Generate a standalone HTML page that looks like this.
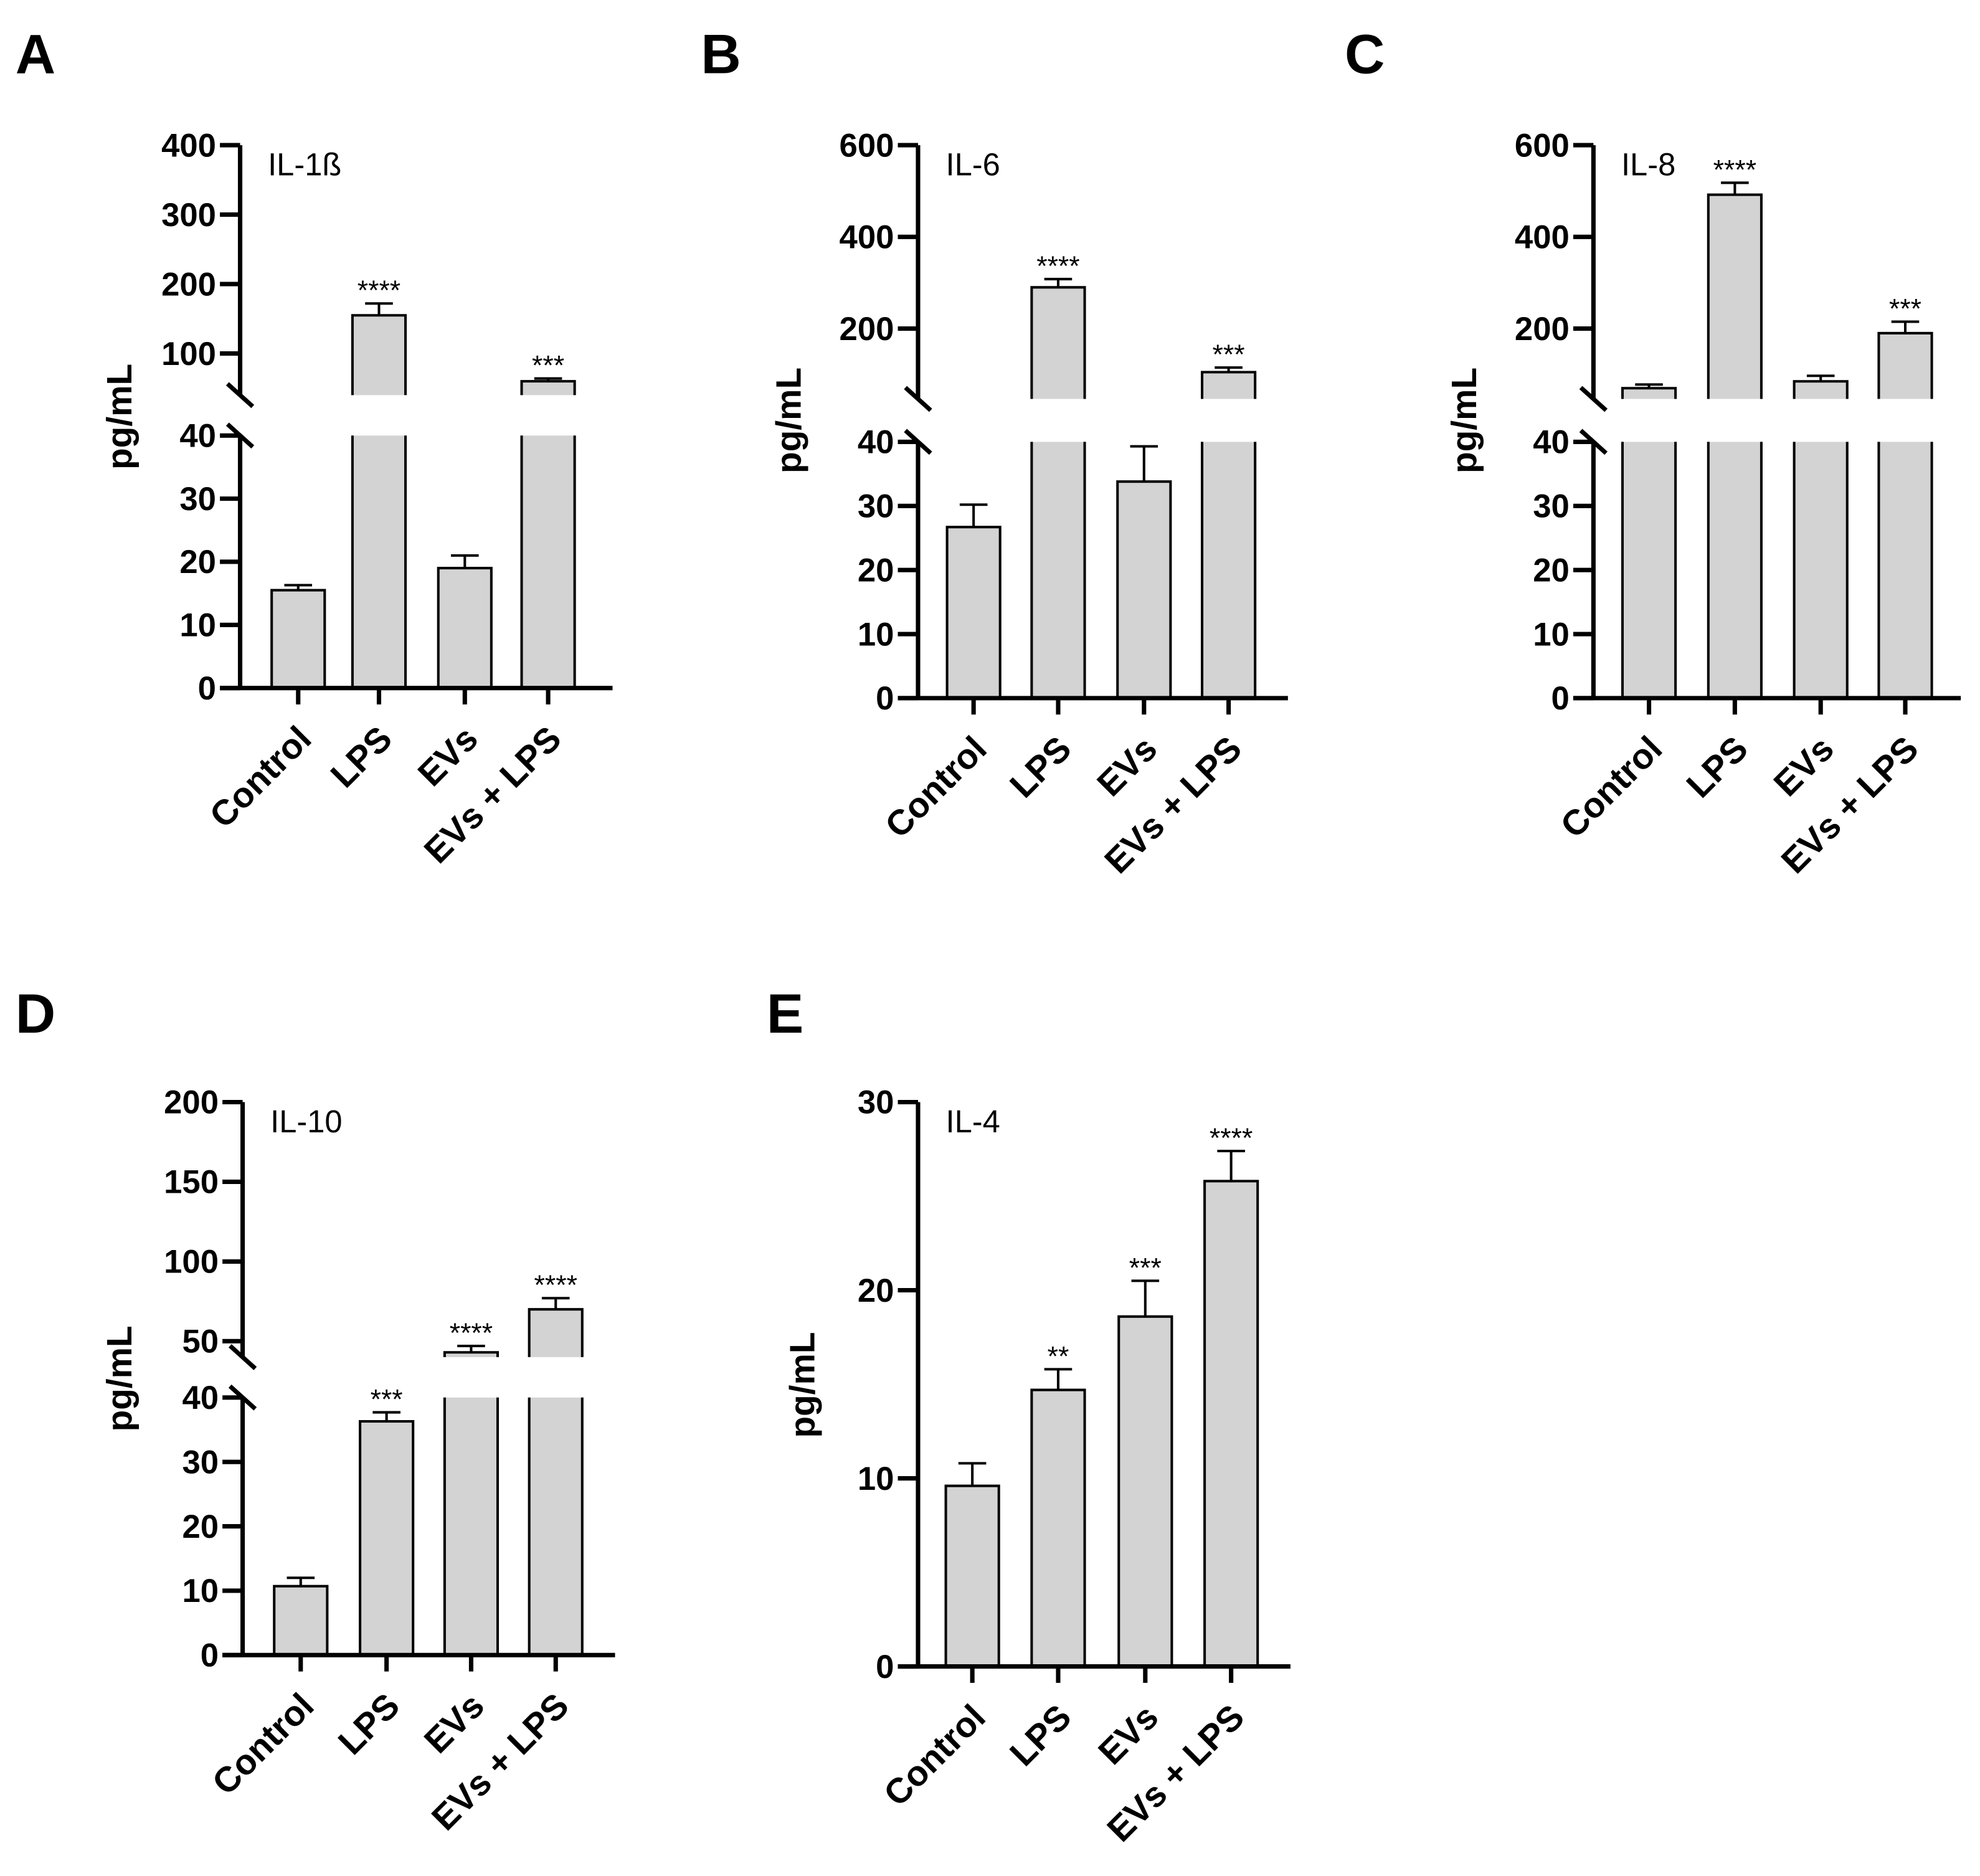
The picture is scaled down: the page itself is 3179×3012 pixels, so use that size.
<!DOCTYPE html>
<html><head><meta charset="utf-8"><style>
html,body{margin:0;padding:0;background:#fff}
svg{display:block}
text{font-family:"Liberation Sans",Arial,sans-serif}
</style></head><body>
<svg id="fig" width="3179" height="3012" viewBox="0 0 1568 1486" xmlns="http://www.w3.org/2000/svg"></svg>
<script>
const categories = ["Control","LPS","EVs","EVs + LPS"];
const il1bValues = [15.5, 155, 19, 60];
const il1bErrors = [16.3, 172, 21, 64];
const il1bStars = ["", "****", "", "***"];
const il6Values = [26.7, 290, 33.8, 105];
const il6Errors = [30.2, 308, 39.3, 115];
const il6Stars = ["", "****", "", "***"];
const il8Values = [70, 492, 85, 190];
const il8Errors = [78, 518, 97, 215];
const il8Stars = ["", "****", "", "***"];
const il10Values = [10.7, 36.3, 43, 70];
const il10Errors = [12, 37.7, 47, 77];
const il10Stars = ["", "***", "****", "****"];
const il4Values = [9.6, 14.7, 18.6, 25.8];
const il4Errors = [10.8, 15.8, 20.5, 27.4];
const il4Stars = ["", "**", "***", "****"];
const lowerTicks = [0,10,20,30,40];
const il1bUpperTicks = [100,200,300,400];
const il6UpperTicks = [200,400,600];
const il8UpperTicks = [200,400,600];
const il10UpperTicks = [50,100,150,200];
const il4Ticks = [0,10,20,30];

const svg = document.getElementById('fig');
const NS = 'http://www.w3.org/2000/svg';
function mk(tag, attrs, parent){
  const e = document.createElementNS(NS, tag);
  for (const k in attrs) e.setAttribute(k, attrs[k]);
  (parent||svg).appendChild(e);
  return e;
}

function panel(cfg){
  const g = mk('g', {});
  
  
  const ax = cfg.axisX;
  function y(v){
    if (!cfg.upper) return cfg.y0 + (cfg.ytop - cfg.y0) * v / cfg.lowMax;
    if (v <= cfg.lowMax) return cfg.y0 + (cfg.y40 - cfg.y0) * v / cfg.lowMax;
    return cfg.breakTop + (cfg.topY - cfg.breakTop) * (v - cfg.upMin) / (cfg.upMax - cfg.upMin);
  }
  const bw = 42;
  cfg.values.forEach((v, i) => {
    const cx = cfg.centers[i];
    const err = cfg.errors[i];
    const ey = y(err), vy = y(v);
    const el = mk('line', {x1:cx, x2:cx, y1:ey, y2:vy, stroke:'#000','stroke-width':2}, g);
    
    
    const cap = mk('line', {x1:cx-11, x2:cx+11, y1:ey, y2:ey, stroke:'#000','stroke-width':2}, g);
    
    
    if (cfg.upper && v > cfg.lowMax) {
      const r1 = mk('rect', {x:cx-bw/2, y:cfg.y40, width:bw, height:cfg.y0-cfg.y40, fill:'#d3d3d3', stroke:'none'}, g);
      
      
      const s1 = mk('path', {d:`M${cx-bw/2},${cfg.y0} V${cfg.y40} M${cx+bw/2},${cfg.y40} V${cfg.y0}`, fill:'none', stroke:'#000','stroke-width':2}, g);
      
      
      const r2 = mk('rect', {x:cx-bw/2, y:vy, width:bw, height:cfg.breakTop-vy, fill:'#d3d3d3'}, g);
      
      
      const s2 = mk('path', {d:`M${cx-bw/2},${cfg.breakTop} V${vy} H${cx+bw/2} V${cfg.breakTop}`, fill:'none', stroke:'#000','stroke-width':2}, g);
      
      
    } else {
      const r = mk('rect', {x:cx-bw/2, y:vy, width:bw, height:cfg.y0-vy, fill:'#d3d3d3', stroke:'#000','stroke-width':2}, g);
      
      
    }
    if (cfg.stars[i]) {
      const t = mk('text', {x:cx, y:ey-3, 'text-anchor':'middle','font-size':22}, g);
      t.textContent = cfg.stars[i];
      
      
    }
    const tk = mk('line', {x1:cx, x2:cx, y1:cfg.y0, y2:cfg.y0+13, stroke:'#000','stroke-width':3.5}, g);
    
    
    const lx = cx + 12, ly = cfg.y0 + 42;
    const lab = mk('text', {x:lx, y:ly, 'text-anchor':'end','font-size':28,'font-weight':'bold', transform:`rotate(-45 ${lx} ${ly})`}, g);
    lab.textContent = categories[i];
    
    
  });
  const xa = mk('line', {x1:ax-16, x2:cfg.axisEnd, y1:cfg.y0, y2:cfg.y0, stroke:'#000','stroke-width':3.5}, g);
  
  
  if (cfg.upper) {
    const ya1 = mk('line', {x1:ax, x2:ax, y1:cfg.y0, y2:cfg.y40, stroke:'#000','stroke-width':3.5}, g);
    
    
    const ya2 = mk('line', {x1:ax, x2:ax, y1:cfg.breakTop, y2:cfg.topY, stroke:'#000','stroke-width':3.5}, g);
    
    
    const bk1 = mk('line', {x1:ax-10, x2:ax+10, y1:cfg.breakTop-9, y2:cfg.breakTop+9, stroke:'#000','stroke-width':3.5}, g);
    
    
    const bk2 = mk('line', {x1:ax-10, x2:ax+10, y1:cfg.y40-9, y2:cfg.y40+9, stroke:'#000','stroke-width':3.5}, g);
    
    
  } else {
    const ya = mk('line', {x1:ax, x2:ax, y1:cfg.y0, y2:cfg.ytop, stroke:'#000','stroke-width':3.5}, g);
    
    
  }
  const allTicks = cfg.upper ? cfg.lowTicks.concat(cfg.upper) : cfg.lowTicks;
  allTicks.forEach(v => {
    const ty = y(v);
    const t = mk('line', {x1:ax-16, x2:ax, y1:ty, y2:ty, stroke:'#000','stroke-width':3.5}, g);
    
    
    const tl = mk('text', {x:ax-19, y:ty+9, 'text-anchor':'end','font-size':26,'font-weight':'bold'}, g);
    tl.textContent = v;
    
    
  });
  const yl = mk('text', {x:cfg.ylabX, y:cfg.ylabY, 'text-anchor':'middle','font-size':28,'font-weight':'bold', transform:`rotate(-90 ${cfg.ylabX} ${cfg.ylabY})`}, g);
  yl.textContent = 'pg/mL';
  
  
  const tt = mk('text', {x:ax+22, y:cfg.titleY, 'font-size':25}, g);
  tt.textContent = cfg.title;
  
  
  const pl = mk('text', {x:cfg.letterX, y:cfg.letterY, 'font-size':44,'font-weight':'bold'}, g);
  pl.textContent = cfg.letter;
  
  
}

panel({name:'panel-a-il1b', letter:'A', letterX:12, letterY:58, title:'IL-1ß', titleY:139,
  axisX:190, axisEnd:485, centers:[236,300,368,434], values:il1bValues, errors:il1bErrors, stars:il1bStars,
  y0:545, y40:345, lowMax:40, lowTicks:lowerTicks, breakTop:313, topY:115, upMin:40, upMax:400, upper:il1bUpperTicks,
  ylabX:104, ylabY:330});
panel({name:'panel-b-il6', letter:'B', letterX:555, letterY:58, title:'IL-6', titleY:139,
  axisX:727, axisEnd:1020, centers:[771,838,906,973], values:il6Values, errors:il6Errors, stars:il6Stars,
  y0:553, y40:350, lowMax:40, lowTicks:lowerTicks, breakTop:316, topY:115, upMin:46.6, upMax:600, upper:il6UpperTicks,
  ylabX:634, ylabY:333});
panel({name:'panel-c-il8', letter:'C', letterX:1065, letterY:58, title:'IL-8', titleY:139,
  axisX:1262, axisEnd:1553, centers:[1306,1374,1442,1509], values:il8Values, errors:il8Errors, stars:il8Stars,
  y0:553, y40:350, lowMax:40, lowTicks:lowerTicks, breakTop:316, topY:115, upMin:46.6, upMax:600, upper:il8UpperTicks,
  ylabX:1169, ylabY:333});
panel({name:'panel-d-il10', letter:'D', letterX:12, letterY:818, title:'IL-10', titleY:897,
  axisX:192, axisEnd:487, centers:[238,306,373,440], values:il10Values, errors:il10Errors, stars:il10Stars,
  y0:1311, y40:1107, lowMax:40, lowTicks:lowerTicks, breakTop:1075, topY:873, upMin:40, upMax:200, upper:il10UpperTicks,
  ylabX:104, ylabY:1092});
panel({name:'panel-e-il4', letter:'E', letterX:607, letterY:818, title:'IL-4', titleY:897,
  axisX:727, axisEnd:1022, centers:[770,838,907,975], values:il4Values, errors:il4Errors, stars:il4Stars,
  y0:1320, ytop:873, lowMax:30, lowTicks:il4Ticks, upper:null,
  ylabX:645, ylabY:1097});
</script>
</body></html>
